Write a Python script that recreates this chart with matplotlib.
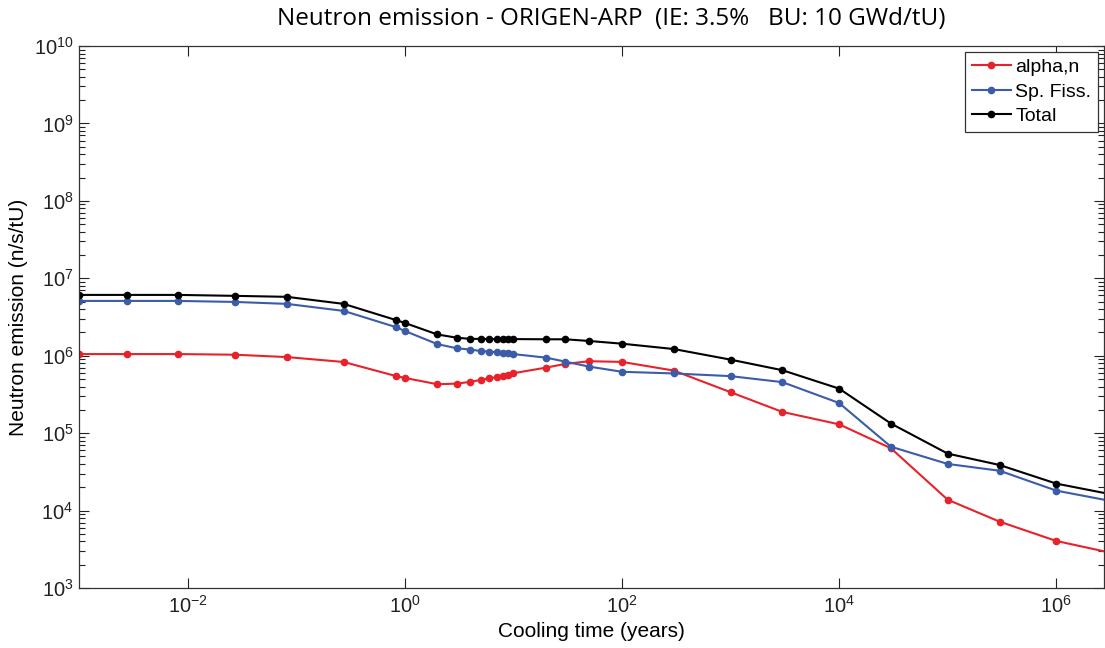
import numpy as np
import matplotlib
matplotlib.use("Agg")
import matplotlib.pyplot as plt
from matplotlib.ticker import FixedLocator, LogLocator, NullFormatter, NullLocator

plt.rcParams['font.family'] = ['Liberation Sans', 'DejaVu Sans']
plt.rcParams['mathtext.fontset'] = 'custom'
plt.rcParams['mathtext.rm'] = 'Liberation Sans'
plt.rcParams['mathtext.it'] = 'Liberation Sans'

# cooling time (years)
t = [1e-3, 1/365, 3/365, 10/365, 30/365, 100/365, 300/365, 1, 2, 3, 4, 5, 6, 7, 8, 9, 10,
     20, 30, 50, 100, 300, 1e3, 3e3, 1e4, 3e4, 1e5, 3e5, 1e6, 3e6]

alpha_n = [1.05e6, 1.05e6, 1.05e6, 1.03e6, 9.6e5, 8.3e5, 5.48e5, 5.17e5, 4.28e5, 4.36e5,
           4.59e5, 4.87e5, 5.12e5, 5.28e5, 5.53e5, 5.70e5, 5.94e5, 7.02e5, 7.83e5, 8.49e5,
           8.32e5, 6.43e5, 3.38e5, 1.88e5, 1.30e5, 6.38e4, 1.38e4, 7.2e3, 4.05e3, 2.9e3]

sp_fiss = [5.1e6, 5.1e6, 5.1e6, 4.95e6, 4.67e6, 3.79e6, 2.35e6, 2.09e6, 1.41e6, 1.25e6,
           1.20e6, 1.15e6, 1.13e6, 1.11e6, 1.09e6, 1.08e6, 1.05e6, 9.44e5, 8.39e5, 7.23e5,
           6.2e5, 5.9e5, 5.45e5, 4.56e5, 2.45e5, 6.68e4, 4.0e4, 3.27e4, 1.81e4, 1.35e4]

total = [6.1e6, 6.1e6, 6.1e6, 5.93e6, 5.76e6, 4.67e6, 2.9e6, 2.65e6, 1.88e6, 1.71e6,
         1.65e6, 1.65e6, 1.64e6, 1.64e6, 1.64e6, 1.64e6, 1.64e6, 1.63e6, 1.63e6, 1.55e6,
         1.43e6, 1.22e6, 8.9e5, 6.5e5, 3.76e5, 1.33e5, 5.44e4, 3.88e4, 2.23e4, 1.65e4]

xticks = [1e-2, 1e0, 1e2, 1e4, 1e6]
yticks = [1e3, 1e4, 1e5, 1e6, 1e7, 1e8, 1e9, 1e10]

fig = plt.figure(figsize=(11.05, 6.48), dpi=100)
ax = fig.add_axes([79/1105, 60/648, 1025/1105, 542/648])

ax.plot(t, alpha_n, '.-', color='#e8222a', lw=1.5, ms=9, label='alpha,n')
ax.plot(t, sp_fiss, '.-', color='#3b5ca8', lw=1.5, ms=9, label='Sp. Fiss.')
ax.plot(t, total, '.-', color='black', lw=1.5, ms=9, label='Total')

ax.set_xscale('log')
ax.set_yscale('log')
ax.set_xlim(1e-3, 2.75e6)
ax.set_ylim(1e3, 1e10)

ax.xaxis.set_major_locator(FixedLocator(xticks))
ax.xaxis.set_minor_locator(NullLocator())
ax.set_xticklabels([r'$10^{%d}$' % int(np.log10(v)) for v in xticks])
ax.yaxis.set_major_locator(FixedLocator(yticks))
ax.yaxis.set_minor_locator(LogLocator(base=10, subs=np.arange(2, 10), numticks=20))
ax.yaxis.set_minor_formatter(NullFormatter())
ax.set_yticklabels([r'$10^{%d}$' % int(np.log10(v)) for v in yticks])

ax.tick_params(which='both', direction='in', top=True, right=True, labelsize=14.5, colors='#222222')
ax.tick_params(which='major', length=7, width=0.8)
ax.tick_params(which='minor', length=4, width=0.8)
ax.tick_params(axis='x', pad=5)
ax.tick_params(axis='y', pad=4)
for s in ax.spines.values():
    s.set_linewidth(0.9)
    s.set_color('#333333')

ax.set_xlabel('Cooling time (years)', fontsize=15, labelpad=4)
ax.set_ylabel('Neutron emission (n/s/tU)', fontsize=15, labelpad=4)
fig.text(611/1105, 1 - 19/648, 'Neutron emission - ORIGEN-ARP  (IE: 3.5%   BU: 10 GWd/tU)',
         ha='center', va='center', fontsize=17.5, family=['Open Sans', 'DejaVu Sans'])

leg = ax.legend(loc='upper right', fontsize=14, fancybox=False, edgecolor='#333333',
                framealpha=1, borderaxespad=0.3, handlelength=2.0, handletextpad=0.25,
                labelspacing=0.35, borderpad=0.35)
leg.get_frame().set_linewidth(0.9)

fig.savefig('out.png', dpi=100)
